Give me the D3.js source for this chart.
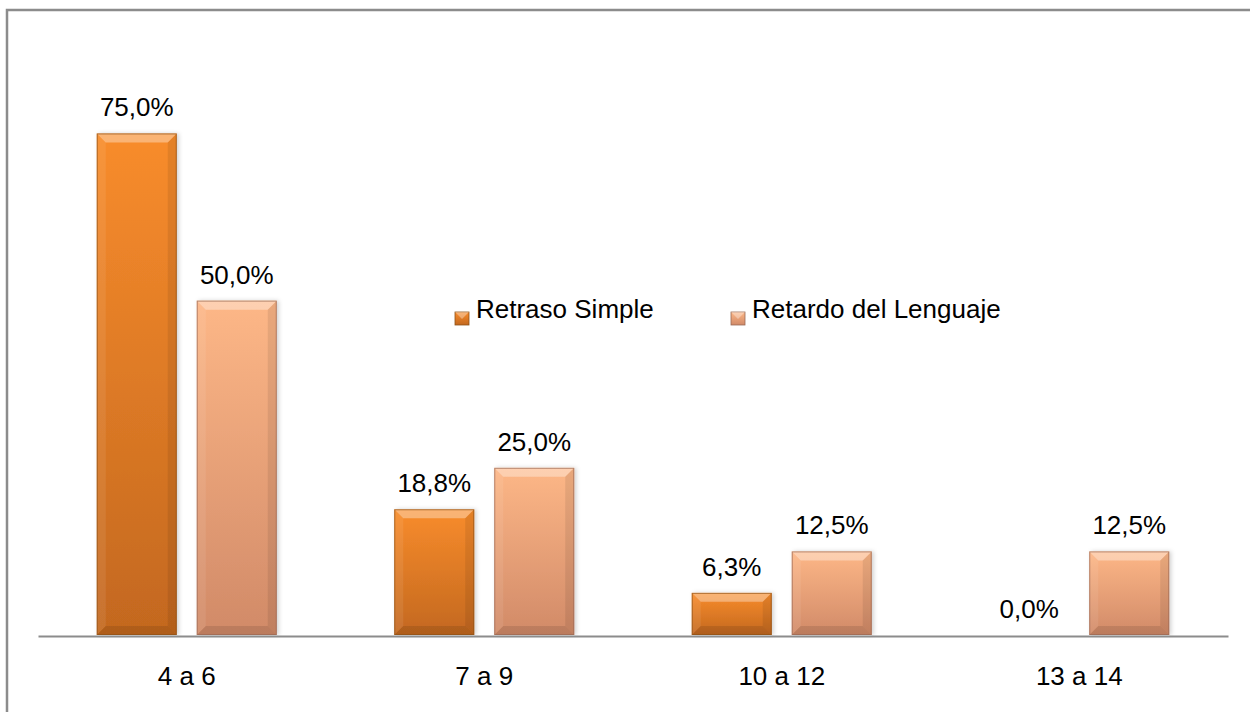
<!DOCTYPE html>
<html>
<head>
<meta charset="utf-8">
<script src="https://cdn.jsdelivr.net/npm/d3@7"></script>
<style>
  html, body { margin: 0; padding: 0; background: #fff; }
  svg { display: block; }
  text { font-family: "Liberation Sans", Arial, sans-serif; fill: #000; }
</style>
</head>
<body>
<svg id="chart" width="1250" height="712"></svg>
<script>
const categories = ["4 a 6", "7 a 9", "10 a 12", "13 a 14"];
const seriesNames = ["Retraso Simple", "Retardo del Lenguaje"];
const retrasoSimple = [75.0, 18.8, 6.3, 0.0];
const retardoLenguaje = [50.0, 25.0, 12.5, 12.5];
const seriesValues = [retrasoSimple, retardoLenguaje];

const colors = [
  { top: "#F88C2C", bottom: "#C3681F", stroke: "#8E5218" },
  { top: "#FDB787", bottom: "#D18A68", stroke: "#9A6A55" }
];

const svg = d3.select("#chart");
const W = 1250, H = 712;

// frame
svg.append("rect").attr("x", 7).attr("y", 10).attr("width", 1260).attr("height", 720)
  .attr("fill", "none").attr("stroke", "#8c8c8c").attr("stroke-width", 2.5);

const plot = { left: 38, right: 1228, top: 100, bottom: 635 };

const x0 = d3.scaleBand().domain(categories).range([plot.left, plot.right]).padding(0);
const x1 = d3.scaleBand().domain(seriesNames).range([0, 180]).paddingInner(0.2);
const y = d3.scaleLinear().domain([0, 80]).range([plot.bottom, plot.top]);

const defs = svg.append("defs");
colors.forEach((c, i) => {
  const g = defs.append("linearGradient").attr("id", "grad" + i)
    .attr("x1", 0).attr("y1", 0).attr("x2", 0).attr("y2", 1);
  g.append("stop").attr("offset", "0%").attr("stop-color", c.top);
  g.append("stop").attr("offset", "100%").attr("stop-color", c.bottom);
});
const f = defs.append("filter").attr("id", "shadow").attr("x", "-20%").attr("y", "-20%").attr("width", "140%").attr("height", "140%");
f.append("feDropShadow").attr("dx", 2).attr("dy", 0).attr("stdDeviation", 2)
  .attr("flood-color", "#000").attr("flood-opacity", 0.18);

const data = [];
categories.forEach((cat, ci) => {
  seriesNames.forEach((s, si) => {
    data.push({ cat, s, si, v: seriesValues[si][ci] });
  });
});

const bars = svg.append("g");
const B = 9;
data.forEach(d => {
  const bx = x0(d.cat) + (x0.bandwidth() - 180) / 2 + x1(d.s);
  const bw = x1.bandwidth();
  const by = y(d.v);
  const bh = y(0) - by;
  if (bh <= 0) return;
  const g = bars.append("g");
  g.append("rect").attr("x", bx).attr("y", by).attr("width", bw).attr("height", bh)
    .attr("fill", `url(#grad${d.si})`).attr("filter", "url(#shadow)");
  const b = Math.min(B, bh / 2, bw / 2);
  const x2 = bx + bw, y2 = by + bh;
  const poly = (pts, fill, op) => g.append("polygon")
    .attr("points", pts.map(p => p.join(",")).join(" "))
    .attr("fill", fill).attr("fill-opacity", op);
  // top bevel
  poly([[bx, by], [x2, by], [x2 - b, by + b], [bx + b, by + b]], "#fff", 0.35);
  // left bevel
  poly([[bx, by], [bx + b, by + b], [bx + b, y2 - b], [bx, y2]], "#fff", 0.08);
  // right bevel
  poly([[x2, by], [x2, y2], [x2 - b, y2 - b], [x2 - b, by + b]], "#000", 0.08);
  // bottom bevel
  poly([[bx, y2], [bx + b, y2 - b], [x2 - b, y2 - b], [x2, y2]], "#000", 0.1);
  g.append("rect").attr("x", bx + 0.5).attr("y", by + 0.5).attr("width", bw - 1).attr("height", bh - 1)
    .attr("fill", "none").attr("stroke", colors[d.si].stroke).attr("stroke-width", 1).attr("stroke-opacity", 0.7);
});

// value labels
svg.append("g").selectAll("text").data(data).join("text")
  .attr("x", d => x0(d.cat) + (x0.bandwidth() - 180) / 2 + x1(d.s) + x1.bandwidth() / 2)
  .attr("y", d => y(d.v) - 17)
  .attr("text-anchor", "middle")
  .attr("font-size", 26)
  .text(d => d.v.toFixed(1).replace(".", ",") + "%");

// axis
const axis = d3.axisBottom(x0).tickSize(0).tickPadding(30);
const ag = svg.append("g").attr("transform", `translate(0,${plot.bottom + 1})`).call(axis);
ag.select(".domain").attr("stroke", "#8c8c8c").attr("stroke-width", 2.2);
ag.selectAll("text").attr("font-size", 26).attr("fill", "#000")
  .attr("font-family", '"Liberation Sans", Arial, sans-serif')
  .attr("dy", "0").attr("y", 49);

// legend
const legendX = [455, 731];
const lg = svg.append("g");
seriesNames.forEach((s, i) => {
  const g = lg.append("g");
  const mx = legendX[i], my = 312, ms = 14;
  g.append("rect").attr("x", mx).attr("y", my).attr("width", ms).attr("height", ms - 1)
    .attr("fill", `url(#grad${i})`).attr("stroke", colors[i].stroke).attr("stroke-width", 0.8);
  g.append("polygon").attr("points", `${mx},${my} ${mx+ms},${my} ${mx+ms/2},${my+ms/2}`)
    .attr("fill", "#fff").attr("fill-opacity", 0.35);
  g.append("text").attr("x", mx + 21).attr("y", 318).attr("font-size", 26).text(s);
});
</script>
</body>
</html>
